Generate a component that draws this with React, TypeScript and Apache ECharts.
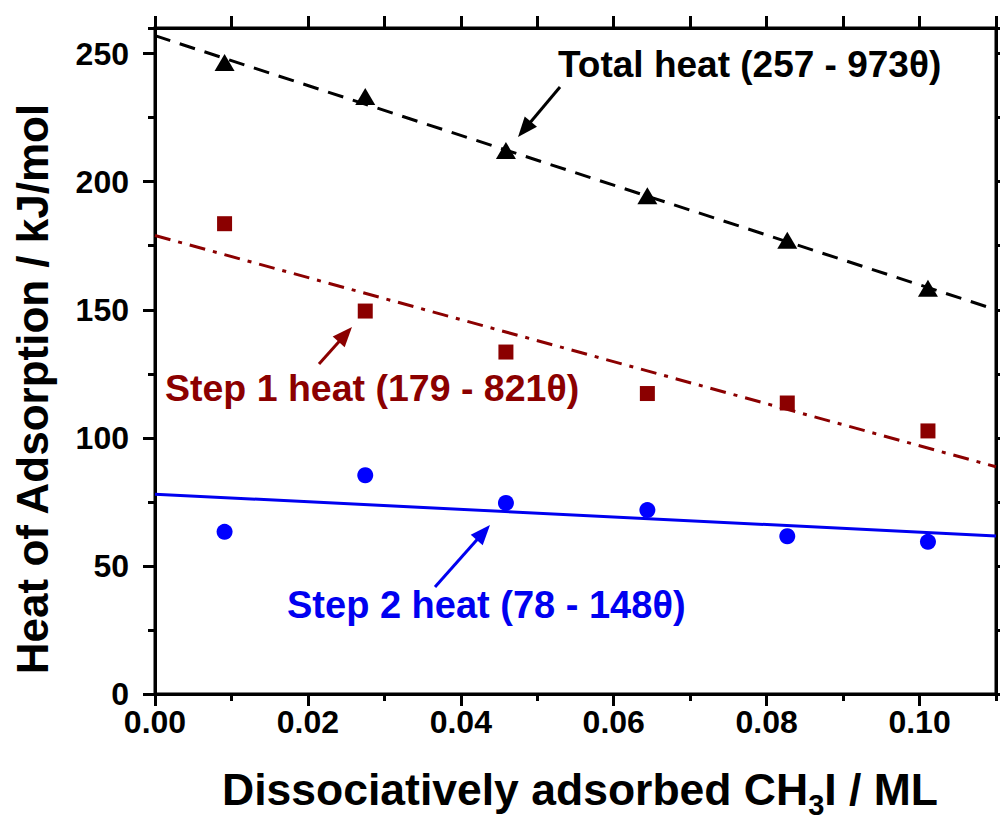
import React, { useEffect, useRef } from "react";
import * as echarts from "echarts";

// Coverage θ (ML)
const theta = [0.0091, 0.0275, 0.0459, 0.0644, 0.0827, 0.1011];
// Heats of adsorption (kJ/mol)
const totalHeat = [246.5, 233.3, 212.2, 194.5, 177.1, 158.4];
const step1Heat = [183.6, 149.5, 133.5, 117.3, 113.6, 102.7];
const step2Heat = [63.3, 85.4, 74.6, 71.8, 61.6, 59.4];
// Linear-fit line end points [θ, heat]
const totalFit = [[0, 257], [0.11, 150]];
const step1Fit = [[0, 179], [0.11, 88.7]];
const step2Fit = [[0, 78], [0.11, 61.7]];
// Labels
const xTitle = "Dissociatively adsorbed CH";
const yTitle = "Heat of Adsorption / kJ/mol";
const totalLabel = "Total heat (257 - 973θ)";
const step1Label = "Step 1 heat (179 - 821θ)";
const step2Label = "Step 2 heat (78 - 148θ)";

const FONT = "'Liberation Sans', Arial, sans-serif";
const RED = "#8b0000";
const BLUE = "#0000f0";

function arrow(x1: number, y1: number, x2: number, y2: number, color: string) {
  const dx = x2 - x1;
  const dy = y2 - y1;
  const len = Math.sqrt(dx * dx + dy * dy);
  const ux = dx / len;
  const uy = dy / len;
  const hl = 20;
  const hw = 8;
  const bx = x2 - ux * hl;
  const by = y2 - uy * hl;
  return [
    {
      type: "line",
      shape: { x1, y1, x2: bx + ux * 2, y2: by + uy * 2 },
      style: { stroke: color, lineWidth: 3 },
      z: 10,
    },
    {
      type: "polygon",
      shape: {
        points: [
          [x2, y2],
          [bx - uy * hw, by + ux * hw],
          [bx + uy * hw, by - ux * hw],
        ],
      },
      style: { fill: color },
      z: 10,
    },
  ];
}

export default function App() {
  const ref = useRef<HTMLDivElement>(null);
  useEffect(() => {
    document.body.style.margin = "0";
    const chart = echarts.init(ref.current!, null, { renderer: "svg" });
    const pts = (ys: number[]) => theta.map((t, i) => [t, ys[i]]);
    const tickStyle = { color: "#000", width: 3 };
    chart.setOption({
      animation: false,
      backgroundColor: "#fff",
      grid: {
        left: 155,
        right: 4,
        top: 28,
        bottom: 127,
        containLabel: false,
        show: true,
        borderColor: "#000",
        borderWidth: 3,
        backgroundColor: "transparent",
      },
      xAxis: [
        {
          type: "value",
          position: "bottom",
          min: 0,
          max: 0.11,
          interval: 0.02,
          axisLine: { show: true, onZero: false, lineStyle: { color: "#000", width: 3 } },
          axisTick: { show: true, length: 12, lineStyle: tickStyle },
          axisLabel: {
            show: true,
            margin: 12,
            showMaxLabel: false,
            formatter: (v: number) => v.toFixed(2),
            color: "#000",
            fontFamily: FONT,
            fontWeight: "bold",
            fontSize: 32,
          },
          splitLine: { show: false },
        },
        {
          type: "value",
          position: "top",
          min: 0,
          max: 0.11,
          interval: 0.01,
          axisLine: { show: true, onZero: false, lineStyle: { color: "#000", width: 3 } },
          axisTick: { show: true, length: 12, lineStyle: tickStyle },
          axisLabel: { show: false },
          splitLine: { show: false },
        },
        {
          type: "value",
          position: "bottom",
          min: 0,
          max: 0.11,
          interval: 0.01,
          axisLine: { show: false, onZero: false },
          axisTick: { show: true, length: 7, lineStyle: tickStyle },
          axisLabel: { show: false },
          splitLine: { show: false },
        },
      ],
      yAxis: [
        {
          type: "value",
          position: "left",
          min: 0,
          max: 260,
          interval: 50,
          axisLine: { show: true, onZero: false, lineStyle: { color: "#000", width: 3 } },
          axisTick: { show: true, length: 12, lineStyle: tickStyle },
          axisLabel: {
            show: true,
            margin: 26,
            showMaxLabel: false,
            color: "#000",
            fontFamily: FONT,
            fontWeight: "bold",
            fontSize: 32,
          },
          splitLine: { show: false },
        },
        {
          type: "value",
          position: "right",
          min: 0,
          max: 260,
          interval: 25,
          axisLine: { show: true, onZero: false, lineStyle: { color: "#000", width: 3 } },
          axisTick: { show: true, length: 10, lineStyle: tickStyle },
          axisLabel: { show: false },
          splitLine: { show: false },
        },
        {
          type: "value",
          position: "left",
          min: 0,
          max: 260,
          interval: 25,
          axisLine: { show: false, onZero: false },
          axisTick: { show: true, length: 7, lineStyle: tickStyle },
          axisLabel: { show: false },
          splitLine: { show: false },
        },
      ],
      series: [
        {
          type: "line",
          data: totalFit,
          showSymbol: false,
          lineStyle: { color: "#000", width: 3, type: [16, 10] },
          z: 2,
        },
        {
          type: "line",
          data: step1Fit,
          showSymbol: false,
          lineStyle: { color: RED, width: 3, type: [16, 8, 4, 8] },
          z: 2,
        },
        {
          type: "line",
          data: step2Fit,
          showSymbol: false,
          lineStyle: { color: BLUE, width: 3 },
          z: 2,
        },
        {
          type: "scatter",
          data: pts(totalHeat),
          symbol: "triangle",
          symbolSize: [20, 17],
          itemStyle: { color: "#000", opacity: 1 },
          z: 3,
        },
        {
          type: "scatter",
          data: pts(step1Heat),
          symbol: "rect",
          symbolSize: 15,
          itemStyle: { color: RED, opacity: 1 },
          z: 3,
        },
        {
          type: "scatter",
          data: pts(step2Heat),
          symbol: "circle",
          symbolSize: 16,
          itemStyle: { color: "#0000ff", opacity: 1 },
          z: 3,
        },
      ],
      graphic: [
        {
          type: "text",
          x: 32,
          y: 389,
          rotation: Math.PI / 2,
          style: {
            text: yTitle,
            fill: "#000",
            font: `bold 44px ${FONT}`,
            align: "center",
            verticalAlign: "middle",
          },
        },
        {
          type: "text",
          x: 580,
          y: 789,
          style: {
            text: `{m|${xTitle}}{s|3}{m|I / ML}`,
            align: "center",
            verticalAlign: "middle",
            rich: {
              m: { fontFamily: FONT, fontWeight: "bold", fontSize: 44.5, fill: "#000", lineHeight: 50 },
              s: {
                fontFamily: FONT,
                fontWeight: "bold",
                fontSize: 29,
                fill: "#000",
                padding: [32, 0, 0, 0],
                lineHeight: 29,
              },
            },
          },
        },
        {
          type: "text",
          x: 558,
          y: 64,
          style: {
            text: totalLabel,
            fill: "#000",
            font: `bold 37px ${FONT}`,
            align: "left",
            verticalAlign: "middle",
          },
          z: 10,
        },
        {
          type: "text",
          x: 165,
          y: 388,
          style: {
            text: step1Label,
            fill: RED,
            font: `bold 37.5px ${FONT}`,
            align: "left",
            verticalAlign: "middle",
          },
          z: 10,
        },
        {
          type: "text",
          x: 287,
          y: 605,
          style: {
            text: step2Label,
            fill: BLUE,
            font: `bold 38px ${FONT}`,
            align: "left",
            verticalAlign: "middle",
          },
          z: 10,
        },
        ...arrow(560, 87, 518, 137, "#000"),
        ...arrow(319, 364, 352, 327, RED),
        ...arrow(435, 587, 490, 525, BLUE),
      ],
    });
    return () => chart.dispose();
  }, []);
  return (
    <div
      ref={ref}
      style={{ position: "fixed", left: 0, top: 0, width: 1000, height: 821 }}
    />
  );
}
